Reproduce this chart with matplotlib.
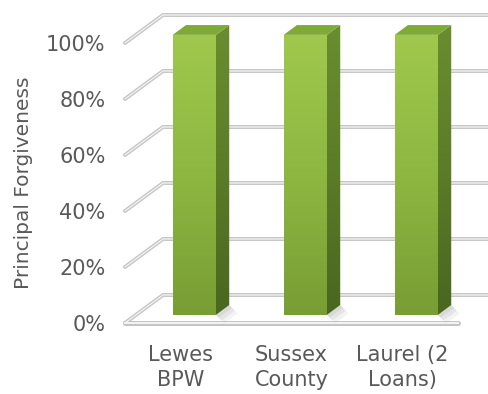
import numpy as np
import matplotlib
matplotlib.use('Agg')
import matplotlib.pyplot as plt
from matplotlib.patches import Polygon
from matplotlib.colors import LinearSegmentedColormap

# data
categories = ['Lewes\nBPW', 'Sussex\nCounty', 'Laurel (2\nLoans)']
forgiveness = [1.0, 1.0, 1.0]
yticks = [0.0, 0.2, 0.4, 0.6, 0.8, 1.0]
ytick_labels = ['0%', '20%', '40%', '60%', '80%', '100%']

txt_col = '#595959'
plt.rcParams['font.family'] = ['DejaVu Sans']

fig = plt.figure(figsize=(4.89, 3.94), dpi=100)
ax = fig.add_axes([125/489, (394-323)/394, 333/489, 280/394])
ax.set_xlim(-0.5, len(categories)-0.5)
ax.set_ylim(0, 1)

# 3d depth offsets (data units)
ddx = 0.342
ddy = 0.1
f0, f1 = 0.29, 0.64     # bar front / back depth fraction
bw = 0.39               # bar width
shift = 0.025           # small nudge of bars to the right


def tube(xs, ys, z=1):
    ax.plot(xs, ys, color='#c4c4c4', lw=2.8, solid_capstyle='round', zorder=z, clip_on=False)
    ax.plot(xs, ys, color='#f4f4f4', lw=0.9, solid_capstyle='round', zorder=z+0.1, clip_on=False)


x0, x1 = -0.5, len(categories)-0.5
for v in yticks:
    tube([x0, x0+ddx, x1+ddx+0.2], [v, v+ddy, v+ddy])
# floor front edge
ax.plot([x0, x1], [0, 0], color='#c4c4c4', lw=3.6, zorder=1, clip_on=False, solid_capstyle='round')
ax.plot([x0, x1], [0, 0], color='#f4f4f4', lw=1.4, zorder=1.1, clip_on=False)

front_cmap = LinearSegmentedColormap.from_list('f', ['#789d34', '#8db741', '#a0c84d'])
side_cmap = LinearSegmentedColormap.from_list('s', ['#4a6620', '#5b7c28', '#6a8d30'])
grad = np.linspace(0, 1, 256).reshape(-1, 1)


def grad_face(pts, cmap, ext):
    face = Polygon(pts, closed=True, fc='none', ec='none', clip_on=False)
    ax.add_patch(face)
    im = ax.imshow(grad, extent=ext, origin='lower', cmap=cmap, aspect='auto', zorder=3)
    im.set_clip_box(fig.bbox)
    im.set_clip_path(face)


for i, val in enumerate(forgiveness):
    xl = i - bw/2 + f0*ddx + shift
    xr = i + bw/2 + f0*ddx + shift
    yb = f0*ddy
    yt = val + f0*ddy
    sx = (f1-f0)*ddx
    sy = (f1-f0)*ddy
    # soft shadow on floor
    for k, a in enumerate([0.25, 0.2, 0.15]):
        d = 0.025*(k+1)
        sh = Polygon([(xr, yb), (xr+sx, yb+sy), (xr+sx+d, yb+sy-d*0.4), (xr+d, yb-d*0.4)],
                     closed=True, fc='#b0b0b0', ec='none', zorder=2, alpha=a, clip_on=False)
        ax.add_patch(sh)
    grad_face([(xl, yb), (xr, yb), (xr, yt), (xl, yt)], front_cmap, [xl, xr, yb, yt])
    grad_face([(xr, yb), (xr+sx, yb+sy), (xr+sx, yt+sy), (xr, yt)], side_cmap,
              [xr, xr+sx, yb, yt+sy])
    top = Polygon([(xl, yt), (xr, yt), (xr+sx, yt+sy), (xl+sx, yt+sy)], closed=True,
                  fc='#80aa38', ec='none', zorder=4, clip_on=False)
    ax.add_patch(top)

ax.set_xlim(-0.5, len(categories)-0.5)
ax.set_ylim(0, 1)
ax.set_aspect('auto')

ax.set_yticks(yticks)
ax.set_yticklabels(ytick_labels)
ax.set_xticks(range(len(categories)))
ax.set_xticklabels(categories, linespacing=1.3)
ax.tick_params(axis='both', length=0, labelsize=15, labelcolor=txt_col)
ax.tick_params(axis='y', pad=14)
ax.tick_params(axis='x', pad=16)
for s in ax.spines.values():
    s.set_visible(False)
ax.patch.set_visible(False)

fig.text(24/489, 1-183/394, 'Principal Forgiveness', rotation=90, ha='center', va='center',
         fontsize=14.5, color=txt_col)

fig.savefig('out.png', dpi=100)
